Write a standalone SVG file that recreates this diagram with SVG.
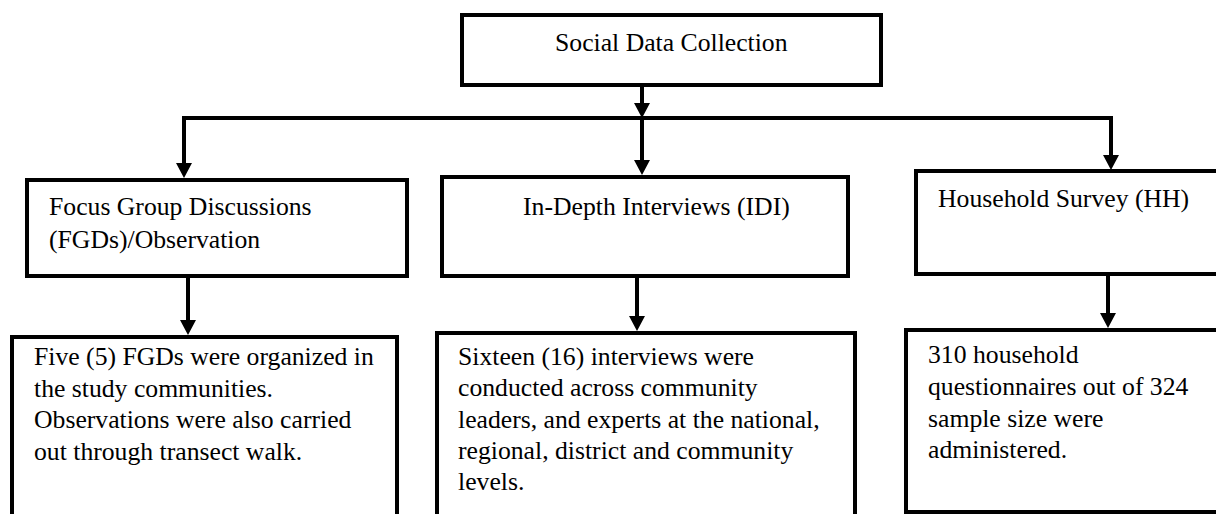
<svg xmlns="http://www.w3.org/2000/svg" width="1216" height="514" viewBox="0 0 1216 514">
<style>
.box{fill:#fff;stroke:#000;stroke-width:4}
.c{fill:none;stroke:#000;stroke-width:4;stroke-linejoin:miter}
text{font-family:"Liberation Serif","Times New Roman",serif;font-size:25.7px;fill:#000}
</style>
<defs>
<marker id="ah" markerUnits="userSpaceOnUse" markerWidth="15" markerHeight="16" viewBox="0 0 15 16" refX="11" refY="8" orient="auto-start-reverse">
<path d="M0,0 L15,8 L0,16 Z" fill="#000"/>
</marker>
</defs>
<rect width="1216" height="514" fill="#fff"/>
<g id="node-social">
<rect class="box" x="462" y="15" width="419" height="70"/>
<text x="555" y="51">Social Data Collection</text>
</g>
<g id="node-fgd">
<rect class="box" x="27" y="180" width="380" height="96"/>
<text x="49" y="215">Focus Group Discussions</text>
<text x="49" y="248">(FGDs)/Observation</text>
</g>
<g id="node-idi">
<rect class="box" x="442" y="177" width="406" height="99"/>
<text x="523" y="215">In-Depth Interviews (IDI)</text>
</g>
<g id="node-hh">
<rect class="box" x="916" y="171" width="310" height="103"/>
<text x="938" y="207">Household Survey (HH)</text>
</g>
<g id="node-fgd-detail">
<rect class="box" x="12" y="337" width="385" height="190"/>
<text x="34" y="365">Five (5) FGDs were organized in</text>
<text x="34" y="397">the study communities.</text>
<text x="34" y="428">Observations were also carried</text>
<text x="34" y="460">out through transect walk.</text>
</g>
<g id="node-idi-detail">
<rect class="box" x="437" y="333" width="418" height="194"/>
<text x="458" y="365">Sixteen (16) interviews were</text>
<text x="458" y="396">conducted across community</text>
<text x="458" y="428">leaders, and experts at the national,</text>
<text x="458" y="459">regional, district and community</text>
<text x="458" y="490">levels.</text>
</g>
<g id="node-hh-detail">
<rect class="box" x="906" y="330" width="320" height="182"/>
<text x="928" y="363">310 household</text>
<text x="928" y="395">questionnaires out of 324</text>
<text x="928" y="427">sample size were</text>
<text x="928" y="458">administered.</text>
</g>
<g id="connectors">
<path class="c" d="M642,87 V114" marker-end="url(#ah)"/>
<path class="c" d="M184,174 V118 H1111 V166" marker-start="url(#ah)" marker-end="url(#ah)"/>
<path class="c" d="M642,118 V171" marker-end="url(#ah)"/>
<path class="c" d="M188,278 V331" marker-end="url(#ah)"/>
<path class="c" d="M637,278 V327" marker-end="url(#ah)"/>
<path class="c" d="M1108,276 V324" marker-end="url(#ah)"/>
</g>
</svg>
